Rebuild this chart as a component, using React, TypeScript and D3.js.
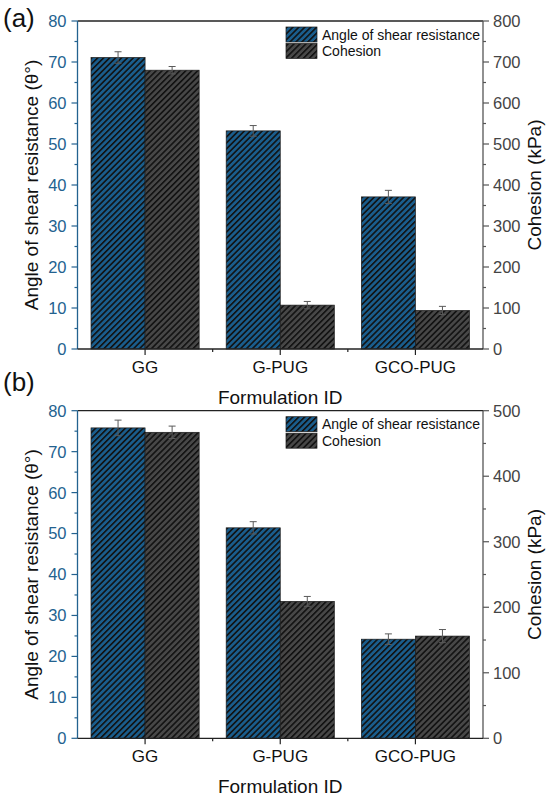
import React from 'react';
import * as d3 from 'd3';

const categories = ['GG', 'G-PUG', 'GCO-PUG'];

const angleA = [71.1, 53.2, 37.1];
const angleErrA = [1.4, 1.3, 1.6];
const cohesionA = [680, 107, 94];
const cohesionErrA = [9, 9, 10];

const angleB = [75.8, 51.4, 24.2];
const angleErrB = [1.9, 1.5, 1.3];
const cohesionB = [467, 209, 156];
const cohesionErrB = [9.5, 7.5, 10];

const leftTicks = [0, 10, 20, 30, 40, 50, 60, 70, 80];
const rightTicksA = [0, 100, 200, 300, 400, 500, 600, 700, 800];
const rightTicksB = [0, 100, 200, 300, 400, 500];

const BLUE = '#1a5d8c';
const AXIS_BLUE = '#23628f';
const GRAY = '#474747';
const FONT = '"Liberation Sans", Arial, sans-serif';

const left = 77.5;
const right = 483;

interface PanelProps {
  tag: string;
  top: number;
  bottom: number;
  angle: number[];
  angleErr: number[];
  cohesion: number[];
  cohesionErr: number[];
  rightTicks: number[];
}

const Panel: React.FC<PanelProps> = ({ tag, top, bottom, angle, angleErr, cohesion, cohesionErr, rightTicks }) => {
  const x = d3.scaleBand().domain(categories).range([left, right]).padding(0);
  const inner = d3.scaleBand().domain(['angle', 'cohesion']).range([0, x.bandwidth()]).paddingOuter(0.25).paddingInner(0);
  const yL = d3.scaleLinear().domain([0, 80]).range([bottom, top]);
  const rMax = rightTicks[rightTicks.length - 1];
  const yR = d3.scaleLinear().domain([0, rMax]).range([bottom, top]);
  const bw = inner.bandwidth();

  const leftMinor = d3.range(5, 80, 10);
  const rightMinor = d3.range(50, rMax, 100);
  const bounds = categories.slice(1).map(c => x(c) as number);

  const errBar = (cx: number, y0: number, y1: number, key: string) => (
    <g key={key} stroke="#5a5a5a" strokeWidth={1}>
      <line x1={cx} x2={cx} y1={y0} y2={y1} />
      <line x1={cx - 3.5} x2={cx + 3.5} y1={y0} y2={y0} />
      <line x1={cx - 3.5} x2={cx + 3.5} y1={y1} y2={y1} />
    </g>
  );

  const mid = (top + bottom) / 2;

  return (
    <g fontFamily={FONT}>
      <text x={3} y={tag === '(a)' ? 26.5 : 391} fontSize={26} fill="#111">{tag}</text>

      {categories.map((c, i) => {
        const x0 = (x(c) as number) + (inner('angle') as number);
        const x1 = (x(c) as number) + (inner('cohesion') as number);
        return (
          <g key={c}>
            <rect x={x0} y={yL(angle[i])} width={bw} height={bottom - yL(angle[i])}
              fill={`url(#hatchBlue)`} stroke="#1a1a1a" strokeWidth={0.7} />
            <rect x={x1} y={yR(cohesion[i])} width={bw} height={bottom - yR(cohesion[i])}
              fill={`url(#hatchGray)`} stroke="#1a1a1a" strokeWidth={0.7} />
            {errBar(x0 + bw / 2, yL(angle[i] + angleErr[i]), yL(angle[i] - angleErr[i]), 'ea' + c)}
            {errBar(x1 + bw / 2, yR(cohesion[i] + cohesionErr[i]), yR(cohesion[i] - cohesionErr[i]), 'ec' + c)}
          </g>
        );
      })}

      {/* frame top */}
      <line x1={left} x2={right} y1={top} y2={top} stroke="#222" strokeWidth={1.3} />

      {/* left axis */}
      <line x1={left} x2={left} y1={top} y2={bottom} stroke={AXIS_BLUE} strokeWidth={1.3} />
      {leftTicks.map(t => (
        <g key={'l' + t}>
          <line x1={left - 6} x2={left} y1={yL(t)} y2={yL(t)} stroke={AXIS_BLUE} strokeWidth={1.2} />
          <text x={left - 11} y={yL(t)} dy="0.36em" textAnchor="end" fontSize={16.5} fill={AXIS_BLUE}>{t}</text>
        </g>
      ))}
      {leftMinor.map(t => (
        <line key={'lm' + t} x1={left - 3} x2={left} y1={yL(t)} y2={yL(t)} stroke={AXIS_BLUE} strokeWidth={1.2} />
      ))}
      <text transform={`translate(37.5,${mid}) rotate(-90)`} textAnchor="middle" fontSize={19} fill="#111">
        Angle of shear resistance (θ°)
      </text>

      {/* right axis */}
      <line x1={right} x2={right} y1={top} y2={bottom} stroke="#555" strokeWidth={1.3} />
      {rightTicks.map(t => (
        <g key={'r' + t}>
          <line x1={right} x2={right + 6} y1={yR(t)} y2={yR(t)} stroke="#555" strokeWidth={1.2} />
          <text x={right + 10} y={yR(t)} dy="0.36em" textAnchor="start" fontSize={16.5} fill="#444">{t}</text>
        </g>
      ))}
      {rightMinor.map(t => (
        <line key={'rm' + t} x1={right} x2={right + 3} y1={yR(t)} y2={yR(t)} stroke="#555" strokeWidth={1.2} />
      ))}
      <text transform={`translate(541,${mid}) rotate(-90)`} textAnchor="middle" fontSize={19} fill="#111">
        Cohesion (kPa)
      </text>

      {/* bottom axis */}
      <line x1={left} x2={right} y1={bottom} y2={bottom} stroke="#222" strokeWidth={1.3} />
      {categories.map(c => {
        const cx = (x(c) as number) + x.bandwidth() / 2;
        return (
          <g key={'b' + c}>
            <line x1={cx} x2={cx} y1={bottom} y2={bottom + 6} stroke="#222" strokeWidth={1.2} />
            <text x={cx} y={bottom + 23.7} textAnchor="middle" fontSize={17} fill="#111">{c}</text>
          </g>
        );
      })}
      {bounds.map(b => (
        <line key={'bb' + b} x1={b} x2={b} y1={bottom} y2={bottom + 3} stroke="#222" strokeWidth={1.2} />
      ))}
      <text x={(left + right) / 2} y={bottom + 54.5} textAnchor="middle" fontSize={19} fill="#111">Formulation ID</text>

      {/* legend */}
      <g transform={`translate(286,${top + 6})`}>
        <rect x={0} y={0} width={31} height={15} fill="url(#hatchBlue)" stroke="#1a1a1a" strokeWidth={0.7} />
        <text x={36} y={12.5} fontSize={14} fill="#111">Angle of shear resistance</text>
        <rect x={0} y={16.5} width={31} height={15} fill="url(#hatchGray)" stroke="#1a1a1a" strokeWidth={0.7} />
        <text x={36} y={29} fontSize={14} fill="#111">Cohesion</text>
      </g>
    </g>
  );
};

export default function App() {
  return (
    <svg width={550} height={797} viewBox="0 0 550 797"
      style={{ position: 'absolute', left: 0, top: 0, background: '#fff', display: 'block' }}>
      <defs>
        <pattern id="hatchBlue" patternUnits="userSpaceOnUse" width={4.2} height={4.2} patternTransform="rotate(45)">
          <rect width={4.2} height={4.2} fill={BLUE} />
          <line x1={0.8} x2={0.8} y1={0} y2={4.2} stroke="#111" strokeWidth={1.6} />
        </pattern>
        <pattern id="hatchGray" patternUnits="userSpaceOnUse" width={4.2} height={4.2} patternTransform="rotate(45)">
          <rect width={4.2} height={4.2} fill={GRAY} />
          <line x1={0.8} x2={0.8} y1={0} y2={4.2} stroke="#111" strokeWidth={1.6} />
        </pattern>
      </defs>
      <rect width={550} height={797} fill="#fff" />
      <Panel tag="(a)" top={21} bottom={349} angle={angleA} angleErr={angleErrA}
        cohesion={cohesionA} cohesionErr={cohesionErrA} rightTicks={rightTicksA} />
      <Panel tag="(b)" top={410.7} bottom={738.3} angle={angleB} angleErr={angleErrB}
        cohesion={cohesionB} cohesionErr={cohesionErrB} rightTicks={rightTicksB} />
    </svg>
  );
}
